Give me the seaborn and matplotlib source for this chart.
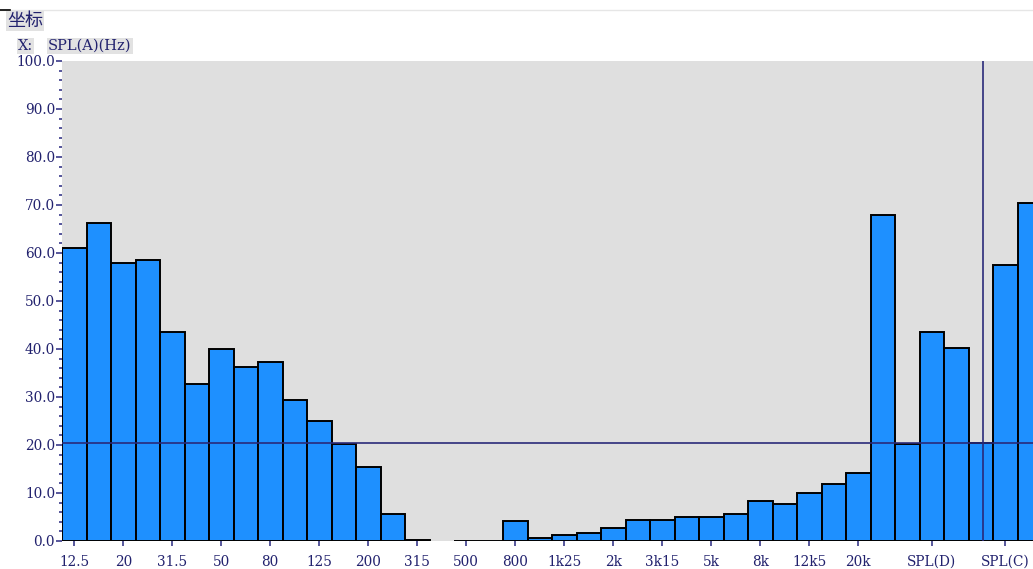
import numpy as np
import matplotlib
matplotlib.use("Agg")
import matplotlib.pyplot as plt
from matplotlib.lines import Line2D
from matplotlib.ticker import MultipleLocator, FormatStrFormatter
import seaborn as sns

# ---- data ----
categories = ["12.5", "16", "20", "25", "31.5", "40", "50", "63", "80", "100",
              "125", "160", "200", "250", "315", "400", "500", "630", "800", "1k",
              "1k25", "1k6", "2k", "2k5", "3k15", "4k", "5k", "6k3", "8k", "10k",
              "12k5", "16k", "20k", "SPL(L)", "SPL(I)", "SPL(D)", "SPL(B)", "SPL(A)",
              "SPL(C)", "SPL(Z)"]
values = [61.0, 66.2, 57.9, 58.6, 43.6, 32.8, 39.9, 36.2, 37.3, 29.4,
          24.9, 20.2, 15.4, 5.7, 0.2, np.nan, 0.0, 0.0, 4.1, 0.7,
          1.2, 1.7, 2.8, 4.4, 4.4, 4.9, 5.1, 5.6, 8.3, 7.8,
          9.9, 11.8, 14.2, 67.9, 20.2, 43.6, 40.2, 20.4, 57.4, 70.5]
shown_labels = ["12.5", "20", "31.5", "50", "80", "125", "200", "315", "500", "800",
                "1k25", "2k", "3k15", "5k", "8k", "12k5", "20k", "SPL(D)", "SPL(C)"]
cursor_category = "SPL(A)"
cursor_value = 20.4

navy = "#22226e"
bar_color = "#1E90FF"

W, H = 1033, 569
fig = plt.figure(figsize=(W / 100, H / 100), dpi=100)
fig.patch.set_facecolor("white")
ax = fig.add_axes([62 / W, 28 / H, 41 * 24.5 / W, 480 / H])

sns.barplot(x=categories, y=values, order=categories, color=bar_color,
            saturation=1, width=1.0, edgecolor="black", linewidth=1.4, ax=ax)

ax.set_facecolor("#dfdfdf")
ax.set_xlim(-0.5, 40.5)
ax.set_ylim(0, 100)
for s in ax.spines.values():
    s.set_visible(False)

# cursor lines
cx = categories.index(cursor_category) + 0.08
ax.axhline(cursor_value, color="#2a2a7a", lw=1.2, zorder=5)
ax.axvline(cx, color="#2a2a7a", lw=1.2, zorder=5)

# x ticks
pos = [categories.index(l) for l in shown_labels]
ax.set_xticks(pos)
ax.set_xticklabels(shown_labels)
ax.tick_params(axis="x", length=3.5, width=1.2, color="#3a3a8a", pad=6.5,
               labelcolor=navy, labelsize=9.8)
for t in ax.get_xticklabels():
    t.set_fontfamily("DejaVu Serif")

# y ticks
ax.yaxis.set_major_locator(MultipleLocator(10))
ax.yaxis.set_minor_locator(MultipleLocator(2))
ax.yaxis.set_major_formatter(FormatStrFormatter("%.1f"))
ax.tick_params(axis="y", which="major", length=4, width=1.2, color="#3a3a8a",
               pad=1, labelcolor=navy, labelsize=9.8)
ax.tick_params(axis="y", which="minor", length=2.2, width=1.2, color="#3a3a8a")
for t in ax.get_yticklabels():
    t.set_fontfamily("DejaVu Serif")
ax.set_xlabel("")
ax.set_ylabel("")

# header texts
fig.add_artist(Line2D([0, 1], [1 - 10 / H, 1 - 10 / H], color="#e6e6e6", lw=1))
fig.add_artist(Line2D([0, 10 / W], [1 - 10 / H, 1 - 10 / H], color="black", lw=1.2))
fig.text(7 / W, 1 - 21 / H, "坐标", fontsize=13, color=navy, va="center", ha="left",
         family=["Noto Sans CJK SC", "DejaVu Sans"], weight="medium",
         bbox=dict(facecolor="#e2e2e2", edgecolor="none", pad=0.8))
fig.text(18 / W, 1 - 46 / H, "X:", fontsize=10.5, color=navy, va="center", ha="left",
         family="DejaVu Serif",
         bbox=dict(facecolor="#e2e2e2", edgecolor="none", pad=0.8))
fig.text(48 / W, 1 - 46 / H, "SPL(A)(Hz)", fontsize=10.5, color=navy, va="center", ha="left",
         family="DejaVu Serif",
         bbox=dict(facecolor="#e2e2e2", edgecolor="none", pad=0.8))

fig.savefig("out.png", dpi=100)
